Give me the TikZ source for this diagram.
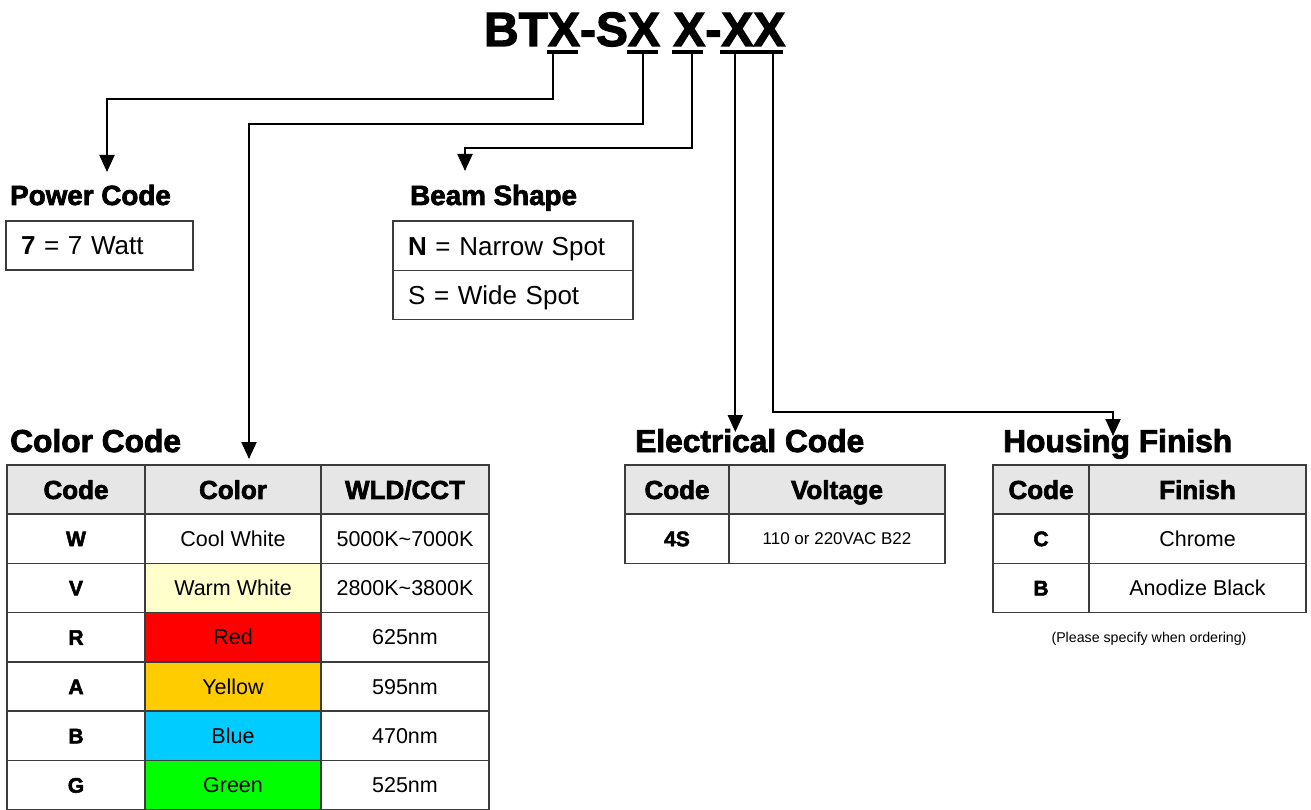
\documentclass[tikz,border=0pt]{standalone}
\usepackage{fontspec}
\setmainfont{Liberation Sans}
\newfontfamily\heavy[FakeBold=2.5]{Liberation Sans Bold}
\usepackage{tikz}
\usetikzlibrary{arrows.meta}
\usetikzlibrary{calc}

\newcommand\fsz[1]{\fontsize{#1}{#1}\selectfont}

\definecolor{gridgray}{RGB}{60,60,60}
\definecolor{headgray}{RGB}{230,230,230}
\definecolor{warmw}{RGB}{255,255,204}
\definecolor{ledred}{RGB}{255,0,0}
\definecolor{ledamber}{RGB}{255,204,0}
\definecolor{ledblue}{RGB}{0,204,255}
\definecolor{ledgreen}{RGB}{0,255,0}

\tikzset{
  title/.style={font=\heavy\fsz{48}, inner sep=0, outer sep=0, anchor=base west},
  head/.style={font=\heavy\fsz{31.7}, inner sep=0, anchor=base west},
  headsm/.style={font=\heavy\fsz{27.8}, inner sep=0, anchor=base west},
  uline/.style={line width=3.5},
  link/.style={line width=2, -{Triangle[length=17pt,width=15pt]}},
  cell/.style={draw=gridgray, line width=1.5, anchor=north west, inner sep=0, outer sep=0,
    minimum height=49.3, font=\fsz{21.5}, text height=15.4, text depth=0},
  hcell/.style={cell, fill=headgray, font=\heavy\fsz{26}, text height=18.6},
  kcell/.style={cell, font=\heavy\fsz{21}, text height=15},
  smcell/.style={cell, font=\fsz{17}, text height=12.2},
  lbox/.style={draw=gridgray, line width=1.5, anchor=north west, outer sep=0, inner ysep=0,
    inner xsep=15, align=left, font=\fsz{26}, text height=18.6, text depth=0},
}

\begin{document}
\begin{tikzpicture}[x=1pt,y=-1pt]
\useasboundingbox (0,0) rectangle (1311,810);

% Part number
\node[title] (bt) at (484,46) {BT};
\node[title] (x1) at (bt.base east) {X};
\node[title] (ds) at (x1.base east) {-S};
\node[title] (x2) at (ds.base east) {X};
\node[title] (x3) at ($(x2.base east)+(13.3,0)$) {X};
\node[title] (dh) at (x3.base east) {-};
\node[title] (x4) at (dh.base east) {X};
\node[title] (x5) at (x4.base east) {X};

%Straight Lines: underlines
\draw[uline] ($(x1.south west)+(-1,6)$) -- ($(x1.south east)+(-2,6)$);
\draw[uline] ($(x2.south west)+(-1,6)$) -- ($(x2.south east)+(-2,6)$);
\draw[uline] ($(x3.south west)+(-1,6)$) -- ($(x3.south east)+(-2,6)$);
\draw[uline] ($(x4.south west)+(-1,6)$) -- ($(x5.south east)+(-2,6)$);

% Text Node: headings
\node[headsm] (pwr-head) at (10,205) {Power Code};
\node[headsm] (beam-head) at (410,205) {Beam Shape};
\node[head] (clr-head) at (10,452) {Color Code};
\node[head] (elec-head) at (635,452) {Electrical Code};
\node[head] (hsg-head) at (1003,452) {Housing Finish};

%Shape: Power box
\node[lbox, text width=157, minimum height=49] (pwr-box) at (6,221) {{\bfseries 7} = 7 Watt};

%Shape: Beam boxes
\node[lbox, text width=210, minimum height=49.5] (beam-n) at (393,221) {{\bfseries N} = Narrow Spot};
\node[lbox, text width=210, minimum height=49] (beam-s) at (393,270.5) {S = Wide Spot};

%Shape: Color table
\node[hcell, minimum width=138] (cc-h1) at (7,465) {Code};
\node[hcell, minimum width=176] (cc-h2) at (145,465) {Color};
\node[hcell, minimum width=168] (cc-h3) at (321,465) {WLD/CCT};
\foreach \code/\name/\shade/\wld [count=\r from 0] in {
    W/Cool White/white/5000K\textasciitilde7000K,
    V/Warm White/warmw/2800K\textasciitilde3800K,
    R/Red/ledred/625nm,
    A/Yellow/ledamber/595nm,
    B/Blue/ledblue/470nm,
    G/Green/ledgreen/525nm}{
  \node[kcell, minimum width=138] (cc-code-\r) at (7,{514+49.3*\r}) {\code};
  \node[cell, minimum width=176, fill=\shade] (cc-name-\r) at (145,{514+49.3*\r}) {\name};
  \node[cell, minimum width=168] (cc-wld-\r) at (321,{514+49.3*\r}) {\wld};
}

%Shape: Electrical table
\node[hcell, minimum width=104] (ec-h1) at (625,465) {Code};
\node[hcell, minimum width=216] (ec-h2) at (729,465) {Voltage};
\node[kcell, minimum width=104] (ec-code) at (625,514) {4S};
\node[smcell, minimum width=216] (ec-volt) at (729,514) {110 or 220VAC B22};

%Shape: Housing table
\node[hcell, minimum width=96] (hf-h1) at (993,465) {Code};
\node[hcell, minimum width=217] (hf-h2) at (1089,465) {Finish};
\node[kcell, minimum width=96] (hf-code-c) at (993,514) {C};
\node[cell, minimum width=217] (hf-name-c) at (1089,514) {Chrome};
\node[kcell, minimum width=96] (hf-code-b) at (993,563.3) {B};
\node[cell, minimum width=217] (hf-name-b) at (1089,563.3) {Anodize Black};

% Text Node
\node[font=\fsz{14.2}, anchor=base, inner sep=0] (hf-note) at (1149,642) {(Please specify when ordering)};

% Connectors
\coordinate (u1) at ($(x1.south)+(-11,6)$);
\coordinate (u2) at ($(x2.south)+(-1,6)$);
\coordinate (u3) at ($(x3.south)+(3,6)$);
\coordinate (u4) at ($(x4.south)+(-2,6)$);
\coordinate (u5) at ($(x5.south)+(4,6)$);
\coordinate (pwr-in) at (107,172);
\coordinate (clr-in) at (249,459);
\coordinate (beam-in) at (465,171);
\coordinate (elec-in) at (735,432);
\coordinate (hsg-in) at (1113,436);

\draw[link] (u1) -- ++(0,47) -| (pwr-in);
\draw[link] (u2) -- ++(0,72) -| (clr-in);
\draw[link] (u3) -- ++(0,96) -| (beam-in);
\draw[link] (u4) -- (u4 |- elec-in);
\draw[link] (u5) -- ++(0,360) -| (hsg-in);

\end{tikzpicture}
\end{document}
